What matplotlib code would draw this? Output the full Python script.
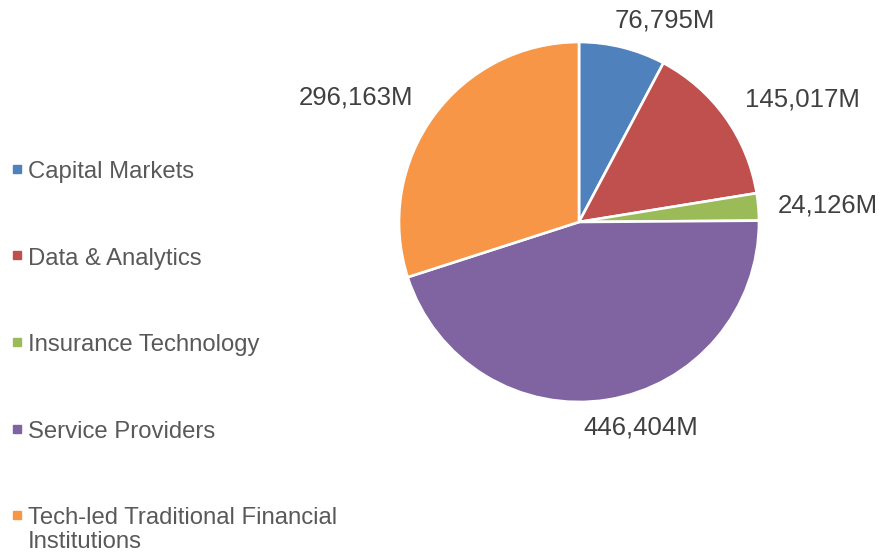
import matplotlib.pyplot as plt
from matplotlib.patches import Rectangle

# values in millions
categories = ['Capital Markets', 'Data & Analytics', 'Insurance Technology',
              'Service Providers', 'Tech-led Traditional Financial\nInstitutions']
values = [76795, 145017, 24126, 446404, 296163]
colors = ['#4F81BD', '#C0504D', '#9BBB59', '#8064A2', '#F79646']

# label positions (axes data coords, radius 1 pie)
label_pos = [(0.478, 1.122), (1.239, 0.678), (1.383, 0.089),
             (0.344, -1.144), (-1.239, 0.694)]

plt.rcParams['font.family'] = ['Liberation Sans', 'DejaVu Sans']

W, H = 882, 552
fig = plt.figure(figsize=(W / 100, H / 100), dpi=100)

# pie axes: centre (579, 222) px, radius 180 px
cx, cy, r = 579, 222, 180
ax = fig.add_axes([(cx - r) / W, 1 - (cy + r) / H, 2 * r / W, 2 * r / H])
ax.pie(values, colors=colors, startangle=90, counterclock=False, radius=1,
       wedgeprops=dict(edgecolor='white', linewidth=1.9))
ax.set_xlim(-1, 1)
ax.set_ylim(-1, 1)
ax.set_aspect('equal')
ax.axis('off')

for v, (x, y) in zip(values, label_pos):
    ax.text(x, y, f'{v:,}M', ha='center', va='center', fontsize=18.5,
            color='#404040', clip_on=False)

# legend on the left
base0 = 178
step = 86.5
for i, (lab, c) in enumerate(zip(categories, colors)):
    yb = base0 + i * step
    lines = lab.split('\n')
    fig.patches.append(Rectangle((13 / W, 1 - (yb - 5) / H), 8 / W, 8 / H,
                                 transform=fig.transFigure, color=c))
    fig.text(28 / W, 1 - yb / H, lines[0], fontsize=17.2,
             color='#595959', va='baseline', ha='left')
    if len(lines) > 1:
        fig.text(28 / W, 1 - (yb + 24.5) / H, lines[1], fontsize=17.2,
                 color='#595959', va='baseline', ha='left')

fig.savefig('out.png', dpi=100)
